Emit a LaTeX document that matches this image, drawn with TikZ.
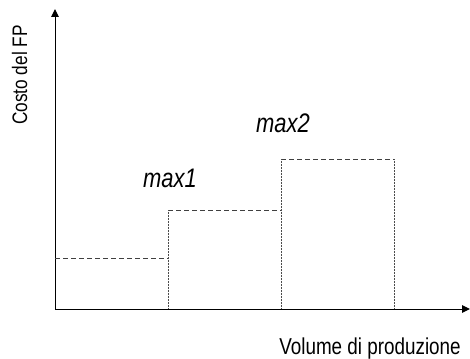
\documentclass[tikz,border=0pt]{standalone}
\usepackage{fontspec}
\setmainfont{Liberation Sans}[FakeStretch=0.82]
\usetikzlibrary{arrows.meta}
\begin{document}
\begin{tikzpicture}[x=1pt,y=-1pt,
  axis/.style={line width=1pt,-{Triangle[length=8pt,width=7.5pt]}},
  lev/.style={dashed,dash pattern=on 5pt off 3pt,line width=0.8pt,black!75},
  side/.style={densely dotted,line width=0.5pt,black!70},
  lbl/.style={font=\fontsize{23}{26}\selectfont,inner sep=0pt,anchor=base},
  ylbl/.style={font=\fontsize{21}{24}\selectfont,inner sep=0pt,anchor=base,rotate=90},
  mx/.style={font=\fontsize{26.8}{30}\selectfont\itshape,inner sep=0pt,anchor=base}]
\useasboundingbox (0,0) rectangle (470,358);
\coordinate (O) at (55,309);
\coordinate (Ytop) at (55,9);
\coordinate (Xend) at (470,309);
\draw[axis] (O) -- (Ytop);
\draw[axis] (O) -- (Xend);
% levels
\coordinate (a0) at (55,258);
\coordinate (a1) at (168,258);
\coordinate (b0) at (168,210);
\coordinate (b1) at (281,210);
\coordinate (c0) at (281,159);
\coordinate (c1) at (394,159);
\coordinate (g1) at (168,309);
\coordinate (g2) at (281,309);
\coordinate (g3) at (394,309);
\draw[lev] (a0) -- (a1);
\draw[lev] (b0) -- (b1);
\draw[lev] (c0) -- (c1);
\draw[side] (b0) -- (g1);
\draw[side] (c0) -- (g2);
\draw[side] (c1) -- (g3);
\node[mx] (m1) at (170,187) {max1};
\node[mx] (m2) at (283,132) {max2};
\node[ylbl] (yl) at (27,75) {Costo del FP};
\node[lbl] (xl) at (370,354) {Volume di produzione};
\end{tikzpicture}
\end{document}
